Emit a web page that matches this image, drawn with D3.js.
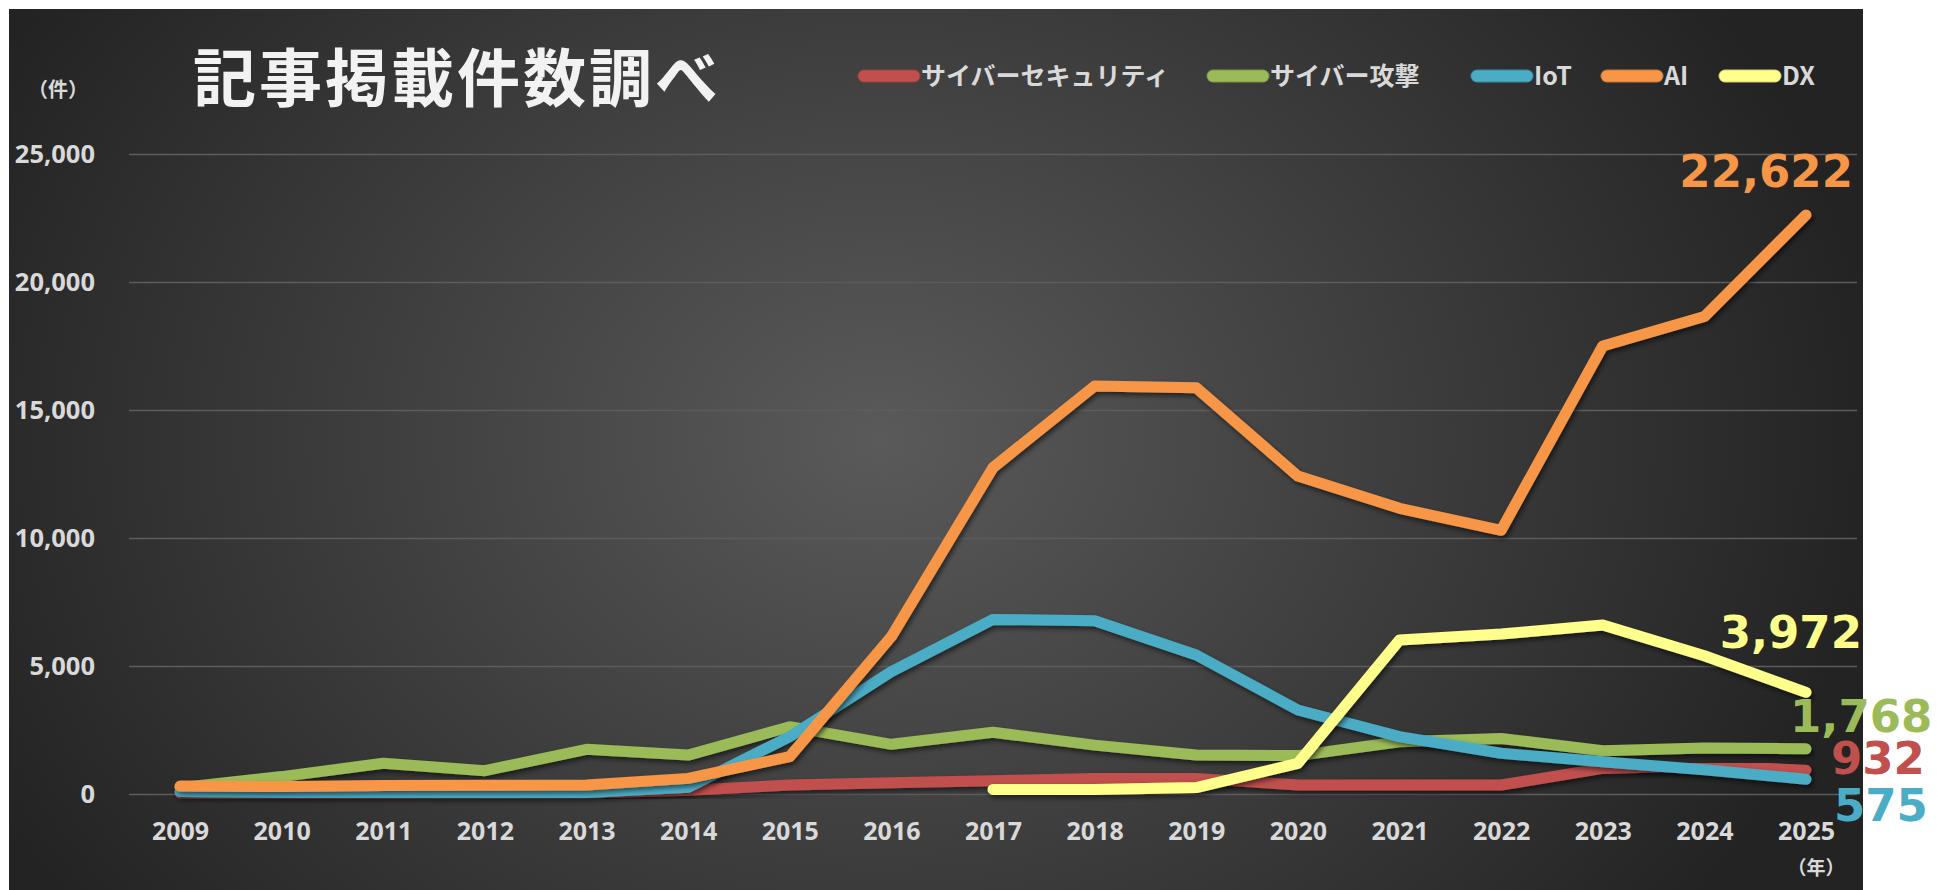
<!DOCTYPE html>
<html><head><meta charset="utf-8">
<script src="https://cdn.jsdelivr.net/npm/d3@7"></script>
<style>
html,body{margin:0;padding:0;background:#fff;}
svg{display:block;}
</style></head>
<body>
<script>
// ---- data ----
const years = ["2009","2010","2011","2012","2013","2014","2015","2016","2017","2018","2019","2020","2021","2022","2023","2024","2025"];
const seriesNames = ["サイバーセキュリティ","サイバー攻撃","IoT","AI","DX"];
const seriesColors = ["#c0504d","#9bbb59","#4bacc6","#f79646","#ffff8c"];
const security = [30,30,30,30,40,150,350,440,520,610,610,350,350,350,1000,1100,932];
const attack   = [250,680,1200,910,1745,1520,2630,1940,2410,1910,1520,1500,2040,2170,1690,1800,1768];
const iot      = [100,60,60,60,60,260,2240,4780,6820,6770,5430,3280,2240,1590,1260,950,575];
const ai       = [310,290,330,340,350,610,1460,6150,12750,15940,15870,12420,11160,10300,17500,18650,22622];
const dx       = [null,null,null,null,null,null,null,null,180,180,250,1200,6020,6250,6600,5400,3972];
const yTicks = [0,5000,10000,15000,20000,25000];
const title = "記事掲載件数調べ";
const yUnit = "（件）";
const xUnit = "（年）";

const seriesValues = [security, attack, iot, ai, dx];

// ---- layout ----
const W = 1937, H = 890;
const svg = d3.select("body").append("svg").attr("width", W).attr("height", H);
const defs = svg.append("defs");

const grad = defs.append("radialGradient").attr("id","bg")
  .attr("gradientUnits","userSpaceOnUse")
  .attr("cx",880).attr("cy",440).attr("r",1000)
  .attr("gradientTransform","translate(880,440) scale(1,0.8) translate(-880,-440)");
grad.append("stop").attr("offset",0).attr("stop-color","#5a5a5a");
grad.append("stop").attr("offset",1).attr("stop-color","#232323");

const f = defs.append("filter").attr("id","shadow").attr("x","-10%").attr("y","-10%").attr("width","120%").attr("height","130%");
f.append("feDropShadow").attr("dx",2).attr("dy",3).attr("stdDeviation",2.5).attr("flood-color","#000").attr("flood-opacity",0.55);

svg.append("rect").attr("x",9).attr("y",9).attr("width",1854).attr("height",H-9).attr("fill","url(#bg)");

const x = d3.scalePoint().domain(years).range([180, 1806]);
const y = d3.scaleLinear().domain([0,25000]).range([794, 154]);

// gridlines
const grid = svg.append("g").attr("transform","translate(129,0)")
  .call(d3.axisLeft(y).tickValues(yTicks).tickSize(-1728).tickFormat(""));
grid.select(".domain").remove();
grid.selectAll("line").attr("stroke","#5c5c5c").attr("stroke-width",1.5);

// y axis labels
const yAx = svg.append("g").attr("transform","translate(95,0)")
  .call(d3.axisLeft(y).tickValues(yTicks).tickSize(0).tickPadding(0).tickFormat(d3.format(",")));
yAx.select(".domain").remove();
yAx.selectAll("text").attr("fill","#d9d9d9").attr("font-family","'Noto Sans', sans-serif")
  .attr("font-weight","bold").attr("font-size",25.5).attr("dy","0.35em");

// x axis labels
const xAx = svg.append("g").attr("transform","translate(0,831)")
  .call(d3.axisBottom(x).tickSize(0).tickPadding(0));
xAx.select(".domain").remove();
xAx.selectAll("text").attr("fill","#d9d9d9").attr("font-family","'Noto Sans', sans-serif")
  .attr("font-weight","bold").attr("font-size",25).attr("y",0).attr("dy","0.36em");

// lines
const line = d3.line().defined(d => d.v != null).x(d => x(d.year)).y(d => y(d.v));
seriesValues.forEach((vals, i) => {
  const pts = years.map((yr, j) => ({year: yr, v: vals[j]}));
  svg.append("path").datum(pts).attr("d", line)
    .attr("fill","none").attr("stroke", seriesColors[i]).attr("stroke-width",11)
    .attr("stroke-linecap","round").attr("stroke-linejoin","round")
    .attr("filter","url(#shadow)");
});

// end labels
const endLabelPos = [
  {dx:25, dy:4, anchor:"start"},     // security
  {dx:-16, dy:-17, anchor:"start"},  // attack
  {dx:28, dy:42, anchor:"start"},    // iot
  {dx:47, dy:-28, anchor:"end"},     // ai
  {dx:56, dy:-44, anchor:"end"}      // dx
];
const last = years[years.length-1];
seriesValues.forEach((vals, i) => {
  const v = vals[vals.length-1];
  const p = endLabelPos[i];
  svg.append("text").attr("x", x(last) + p.dx).attr("y", y(v) + p.dy)
    .attr("text-anchor", p.anchor).attr("fill", seriesColors[i])
    .attr("font-family","'DejaVu Sans', sans-serif").attr("font-weight","bold").attr("font-size",45)
    .text(d3.format(",")(v));
});

// title
svg.append("text").attr("x",193).attr("y",101).attr("fill","#f2f2f2")
  .attr("font-family","'Noto Sans CJK JP', sans-serif").attr("font-weight","bold")
  .attr("font-size",63).attr("letter-spacing",3).text(title);

// units
svg.append("text").attr("x",58).attr("y",90).attr("dy","0.35em").attr("text-anchor","middle")
  .attr("fill","#d9d9d9").attr("font-family","'Noto Sans CJK JP', sans-serif").attr("font-weight","bold")
  .attr("font-size",20).text(yUnit);
svg.append("text").attr("x",1816).attr("y",868).attr("dy","0.35em").attr("text-anchor","middle")
  .attr("fill","#d9d9d9").attr("font-family","'Noto Sans CJK JP', sans-serif").attr("font-weight","bold")
  .attr("font-size",19).text(xUnit);

// legend
const legendX = [858, 1207, 1471, 1601, 1719];
const lg = svg.append("g");
seriesNames.forEach((name, i) => {
  const g = lg.append("g").attr("transform", `translate(${legendX[i]},76)`);
  g.append("line").attr("x1",6).attr("x2",56).attr("y1",0).attr("y2",0)
    .attr("stroke", d3.color(seriesColors[i]).darker(0.6)).attr("stroke-width",13).attr("stroke-linecap","round");
  g.append("line").attr("x1",6).attr("x2",56).attr("y1",0).attr("y2",0)
    .attr("stroke", seriesColors[i]).attr("stroke-width",11).attr("stroke-linecap","round");
  g.append("text").attr("x",63).attr("y",0).attr("dy","0.36em")
    .attr("fill","#d9d9d9").attr("font-family","'Noto Sans CJK JP', sans-serif").attr("font-weight","bold")
    .attr("font-size",25).text(name);
});
</script>
</body></html>
